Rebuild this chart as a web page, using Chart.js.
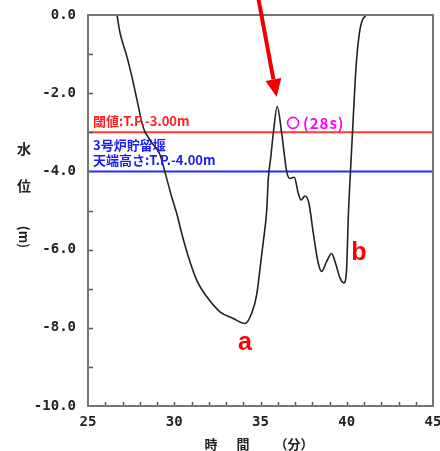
<!DOCTYPE html>
<html lang="ja">
<head>
  <meta charset="UTF-8">
  <title>水位 時間変化</title>
  <style>
    body {
      margin: 0;
      padding: 0;
      background: #fff;
      overflow: hidden;
    }
    .chart-box {
      position: relative;
      width: 448px;
      height: 451px;
    }
  </style>
</head>
<body>
  <div class="chart-box">
    <canvas id="level-chart"></canvas>
  </div>

  <script src="https://cdn.jsdelivr.net/npm/chart.js"></script>
  <script>
    // water level curve (time in minutes, level in m)
    const timeMin = [26.68, 26.86, 27.26, 27.55, 27.84, 28.13, 28.30, 28.48, 28.70, 29.15, 29.45, 29.85, 30.14, 30.43, 30.82, 31.30, 31.88, 32.65, 33.42, 34.10, 34.49, 34.78, 34.97, 35.16, 35.36, 35.45, 35.60, 35.74, 35.97, 36.23, 36.52, 36.71, 36.96, 37.19, 37.35, 37.58, 37.81, 38.06, 38.35, 38.54, 38.83, 39.12, 39.35, 39.61, 39.84, 39.99, 40.09, 40.23, 40.38, 40.54, 40.73, 40.87, 41.12];
    const waterLevel = [0.0, -0.46, -1.07, -1.59, -2.17, -2.76, -2.99, -3.12, -3.27, -3.55, -4.0, -4.65, -5.07, -5.58, -6.18, -6.78, -7.2, -7.59, -7.76, -7.89, -7.63, -7.15, -6.5, -5.8, -5.0, -4.2, -3.62, -3.03, -2.34, -3.03, -4.01, -4.18, -4.15, -4.56, -4.73, -4.63, -4.82, -5.58, -6.35, -6.56, -6.31, -6.1, -6.35, -6.73, -6.85, -6.52, -5.16, -3.88, -2.6, -1.32, -0.47, -0.17, 0.0];

    // reference levels
    const thresholdLevel = -3.0;
    const weirTopLevel = -4.0;

    // axes
    const xRange = [25, 45];
    const yRange = [-10, 0];
    const xMinorTicks = [26, 27, 28, 29, 30, 31, 32, 33, 34, 35, 36, 37, 38, 39, 40, 41, 42, 43, 44];
    const yMinorTicks = [-9, -8, -7, -6, -5, -4, -3, -2, -1];

    const curvePoints = timeMin.map((t, i) => ({ x: t, y: waterLevel[i] }));

    // frame, inward tick marks, titles and notes
    const decorations = {
      id: 'decorations',
      afterDraw(chart) {
        const { ctx, chartArea: a, scales } = chart;
        const xs = scales.x, ys = scales.y;
        ctx.save();

        // inward tick marks
        ctx.strokeStyle = '#555';
        ctx.lineWidth = 1.5;
        ctx.beginPath();
        yMinorTicks.forEach(v => {
          const py = Math.round(ys.getPixelForValue(v)) + 0.5;
          ctx.moveTo(a.left, py);
          ctx.lineTo(a.left + 5, py);
        });
        xMinorTicks.forEach(v => {
          const px = Math.round(xs.getPixelForValue(v)) + 0.5;
          ctx.moveTo(px, a.bottom);
          ctx.lineTo(px, a.bottom - 4);
        });
        ctx.stroke();

        // frame
        ctx.strokeStyle = '#777';
        ctx.lineWidth = 2;
        ctx.strokeRect(a.left, a.top, a.right - a.left, a.bottom - a.top);

        // axis titles
        ctx.fillStyle = '#222';
        ctx.font = 'bold 14px "Noto Sans CJK JP"';
        ctx.textAlign = 'center';
        ctx.textBaseline = 'middle';
        ctx.fillText('水', 24, 149);
        ctx.fillText('位', 24, 186);
        ctx.save();
        ctx.translate(24, 237);
        ctx.rotate(Math.PI / 2);
        ctx.font = 'bold 13px "Noto Sans CJK JP"';
        ctx.fillText('(m)', 0, 0);
        ctx.restore();

        ctx.font = 'bold 13px "Noto Sans CJK JP"';
        ctx.fillText('時', 211, 444);
        ctx.fillText('間', 243, 444);
        ctx.fillText('（分）', 294, 444);

        // notes on the reference lines
        ctx.textAlign = 'left';
        ctx.font = 'bold 13px "Noto Sans CJK JP"';
        ctx.fillStyle = '#ff2020';
        ctx.fillText('閾値:T.P.-3.00m', a.left + 5, ys.getPixelForValue(thresholdLevel) - 11);
        ctx.fillStyle = '#1a1aff';
        ctx.fillText('3号炉貯留堰', a.left + 5, ys.getPixelForValue(thresholdLevel) + 13);
        ctx.fillText('天端高さ:T.P.-4.00m', a.left + 5, ys.getPixelForValue(weirTopLevel) - 11);

        // peak duration note
        ctx.fillStyle = '#ff00ff';
        const noteX = xs.getPixelForValue(36.54), noteY = ys.getPixelForValue(-2.76);
        ctx.lineWidth = 1.6;
        ctx.strokeStyle = '#ff00ff';
        ctx.beginPath();
        ctx.arc(noteX + 6, noteY, 5.5, 0, Math.PI * 2);
        ctx.stroke();
        ctx.font = 'bold 15px "Noto Sans CJK JP"';
        if ('letterSpacing' in ctx) ctx.letterSpacing = '1px';
        ctx.fillText('(28s)', noteX + 16, noteY);
        if ('letterSpacing' in ctx) ctx.letterSpacing = '0px';

        // a / b labels
        ctx.fillStyle = '#ff0000';
        ctx.textAlign = 'center';
        ctx.font = 'bold 25px "Liberation Sans"';
        ctx.fillText('a', xs.getPixelForValue(34.1), ys.getPixelForValue(-8.4));
        ctx.fillText('b', xs.getPixelForValue(40.7), ys.getPixelForValue(-6.1));

        // arrow pointing at the peak
        const tipX = xs.getPixelForValue(35.94), tipY = ys.getPixelForValue(-2.1);
        const tailX = xs.getPixelForValue(34.85), tailY = -4;
        const ang = Math.atan2(tipY - tailY, tipX - tailX);
        const headLen = 18, headW = 8;
        const baseX = tipX - headLen * Math.cos(ang), baseY = tipY - headLen * Math.sin(ang);
        ctx.strokeStyle = '#ee0000';
        ctx.fillStyle = '#ee0000';
        ctx.lineWidth = 4;
        ctx.beginPath();
        ctx.moveTo(tailX, tailY);
        ctx.lineTo(baseX, baseY);
        ctx.stroke();
        ctx.beginPath();
        ctx.moveTo(tipX, tipY);
        ctx.lineTo(baseX + headW * Math.sin(ang), baseY - headW * Math.cos(ang));
        ctx.lineTo(baseX - headW * Math.sin(ang), baseY + headW * Math.cos(ang));
        ctx.closePath();
        ctx.fill();

        ctx.restore();
      }
    };

    const ctx = document.getElementById('level-chart').getContext('2d');
    new Chart(ctx, {
      type: 'line',
      data: {
        datasets: [
          {
            label: '水位',
            data: curvePoints,
            borderColor: '#222',
            borderWidth: 1.6,
            pointRadius: 0,
            cubicInterpolationMode: 'monotone',
            fill: false
          },
          {
            label: '閾値',
            data: [{ x: xRange[0], y: thresholdLevel }, { x: xRange[1], y: thresholdLevel }],
            borderColor: '#ff3a3a',
            borderWidth: 2,
            pointRadius: 0
          },
          {
            label: '貯留堰天端',
            data: [{ x: xRange[0], y: weirTopLevel }, { x: xRange[1], y: weirTopLevel }],
            borderColor: '#2a2aff',
            borderWidth: 2,
            pointRadius: 0
          }
        ]
      },
      options: {
        responsive: true,
        maintainAspectRatio: false,
        animation: false,
        layout: { padding: { left: 0, top: 15, right: 15, bottom: 0 } },
        plugins: {
          legend: { display: false },
          tooltip: { enabled: false }
        },
        scales: {
          x: {
            type: 'linear',
            min: xRange[0],
            max: xRange[1],
            grid: { display: false, drawTicks: false },
            border: { display: false },
            afterFit: s => {
              s.height = 45;
              s.paddingLeft = 0;
              s.paddingRight = 0;
            },
            ticks: {
              stepSize: 5,
              padding: 8,
              color: '#222',
              font: { family: '"DejaVu Sans Mono"', size: 14, weight: 'bold' },
              maxRotation: 0
            }
          },
          y: {
            min: yRange[0],
            max: yRange[1],
            grid: { display: false, drawTicks: false },
            border: { display: false },
            afterFit: s => {
              s.width = 88;
              s.paddingTop = 0;
              s.paddingBottom = 0;
            },
            ticks: {
              stepSize: 2,
              padding: 12,
              color: '#222',
              font: { family: '"DejaVu Sans Mono"', size: 14, weight: 'bold' },
              callback: v => v.toFixed(1)
            }
          }
        }
      },
      plugins: [decorations]
    });
  </script>
</body>
</html>
